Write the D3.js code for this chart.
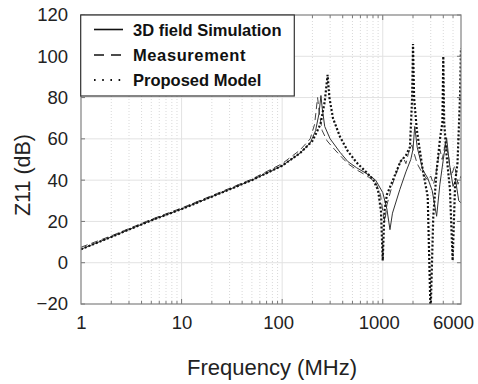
<!DOCTYPE html>
<html>
<head>
<meta charset="utf-8">
<script src="https://cdn.jsdelivr.net/npm/d3@7"></script>
<style>
  body { margin: 0; background: #fff; }
  svg { font-family: Arial, "Liberation Sans", sans-serif; }
</style>
</head>
<body>
<div id="chart"></div>
<script>
// Dados (Z11 em dB x frequência em MHz)
const freqSim = [1, 2, 5, 10, 20, 50, 100, 150, 190, 215, 232, 243, 250, 265, 300, 376, 450, 550, 700, 850, 1000, 1100, 1180, 1250, 1480, 1700, 1900, 2000, 2080, 2200, 2500, 2800, 3100, 3435, 3700, 4000, 4315, 4600, 5000, 5300, 5700, 6000];
const z11Sim = [6.5, 12.5, 20.5, 26, 32, 40, 47, 53, 58, 64, 72, 81, 75, 66, 60, 53.5, 49, 46, 43, 40, 34, 26, 16, 24, 35.5, 44, 50, 55, 66, 56, 45, 41, 35, 22.5, 38, 50, 60.5, 48, 37, 40, 30, 29];

const freqMeas = [1, 2, 5, 10, 20, 50, 100, 150, 190, 210, 225, 235, 250, 280, 330, 376, 450, 550, 700, 850, 950, 1000, 1050, 1100, 1250, 1400, 1500, 1600, 1700, 1800, 1950, 2050, 2200, 2500, 2800, 3000, 3200, 3400, 3700, 3900, 4200, 4500, 4800, 5200, 5600, 6000];
const z11Meas = [7.5, 13, 21, 26.5, 32.5, 40.5, 48, 54.5, 60, 67, 80, 72, 64, 59, 55, 52, 48, 45, 42, 39, 33, 25, 20, 28, 38, 45, 49, 51, 48, 53, 57, 53, 48, 43, 40, 42, 38, 44, 55, 50, 58, 52, 42, 47, 38, 42];

const freqModel = [1, 2, 5, 10, 20, 50, 100, 150, 200, 240, 265, 283, 295, 320, 376, 450, 550, 650, 800, 900, 960, 1000, 1040, 1100, 1262, 1500, 1700, 1864, 1960, 2000, 2050, 2180, 2500, 2800, 2990, 3180, 3440, 3710, 3920, 4000, 4080, 4320, 4660, 4955, 5250, 5540, 5870, 6000];
const z11Model = [6.5, 12.5, 20.5, 26, 32, 40, 47, 53, 59, 67, 78, 91, 80, 70, 61, 54, 48.5, 45, 40.5, 35, 25, 1, 25, 33, 40, 49, 52, 56, 80, 106, 80, 64.5, 45, 32, -25, 22.5, 45, 60, 68, 100, 68, 51.6, 35.5, 1, 39, 48.5, 80.6, 104];

const xTicks = [1, 10, 100, 1000, 6000];
const yTicks = [-20, 0, 20, 40, 60, 80, 100, 120];
const legendLabels = ['3D field Simulation', 'Measurement', 'Proposed Model'];

// Configurações
const W = 478, H = 384;
const margin = { top: 15, right: 17, bottom: 80, left: 81 };
const width = W - margin.left - margin.right;
const height = H - margin.top - margin.bottom;

const svg = d3.select('#chart').append('svg')
  .attr('width', W)
  .attr('height', H);

const g = svg.append('g')
  .attr('transform', `translate(${margin.left},${margin.top})`);

// Escalas
const x = d3.scaleLog().domain([1, 6000]).range([0, width]);
const y = d3.scaleLinear().domain([-20, 120]).range([height, 0]);

// Grade secundária (pontilhada) e principal
const minorX = [];
for (let dec = 1; dec <= 1000; dec *= 10) {
  for (let k = 2; k <= 9; k++) {
    if (dec * k < 6000) minorX.push(dec * k);
  }
}
const majorX = [10, 100, 1000];

g.append('g').selectAll('line')
  .data(minorX).enter().append('line')
  .attr('x1', d => x(d)).attr('x2', d => x(d))
  .attr('y1', 0).attr('y2', height)
  .attr('stroke', '#cfcfcf')
  .attr('stroke-width', 0.8)
  .attr('stroke-dasharray', '1,2');

g.append('g').selectAll('line')
  .data(majorX).enter().append('line')
  .attr('x1', d => x(d)).attr('x2', d => x(d))
  .attr('y1', 0).attr('y2', height)
  .attr('stroke', '#e2e2e2')
  .attr('stroke-width', 1);

g.append('g').selectAll('line')
  .data(yTicks.slice(1, -1)).enter().append('line')
  .attr('x1', 0).attr('x2', width)
  .attr('y1', d => y(d)).attr('y2', d => y(d))
  .attr('stroke', '#e2e2e2')
  .attr('stroke-width', 1);

// Marcas internas dos eixos
const tickG = g.append('g').attr('stroke', '#777').attr('stroke-width', 1);
minorX.concat(majorX).forEach(d => {
  const len = majorX.includes(d) ? 5 : 3;
  tickG.append('line').attr('x1', x(d)).attr('x2', x(d)).attr('y1', height).attr('y2', height - len);
  tickG.append('line').attr('x1', x(d)).attr('x2', x(d)).attr('y1', 0).attr('y2', len);
});
yTicks.forEach(d => {
  tickG.append('line').attr('x1', 0).attr('x2', 4).attr('y1', y(d)).attr('y2', y(d));
  tickG.append('line').attr('x1', width).attr('x2', width - 4).attr('y1', y(d)).attr('y2', y(d));
});

// Curvas
g.append('clipPath').attr('id', 'clip')
  .append('rect').attr('width', width).attr('height', height);

const line = d3.line()
  .x(d => x(d[0]))
  .y(d => y(d[1]));

const zip = (fs, vs) => fs.map((f, i) => [f, vs[i]]);

const curves = g.append('g').attr('clip-path', 'url(#clip)');

curves.append('path')
  .datum(zip(freqMeas, z11Meas))
  .attr('d', line)
  .attr('fill', 'none')
  .attr('stroke', '#444')
  .attr('stroke-width', 1)
  .attr('stroke-dasharray', '7,4');

curves.append('path')
  .datum(zip(freqSim, z11Sim))
  .attr('d', line)
  .attr('fill', 'none')
  .attr('stroke', '#333')
  .attr('stroke-width', 1);

curves.append('path')
  .datum(zip(freqModel, z11Model))
  .attr('d', line)
  .attr('fill', 'none')
  .attr('stroke', '#111')
  .attr('stroke-width', 2.2)
  .attr('stroke-dasharray', '2,2');

// Caixa do gráfico
g.append('rect')
  .attr('width', width).attr('height', height)
  .attr('fill', 'none')
  .attr('stroke', '#808080')
  .attr('stroke-width', 1.2);

// Rótulos dos eixos
const xAxis = d3.axisBottom(x).tickValues(xTicks).tickFormat(d3.format('d')).tickSize(0).tickPadding(12);
const xa = g.append('g')
  .attr('transform', `translate(0,${height})`)
  .call(xAxis);
xa.select('.domain').remove();
xa.selectAll('text')
  .attr('font-size', 18.5)
  .attr('fill', '#222')
  .attr('dx', d => d === 6000 ? -8 : (d >= 100 ? -4 : 0));

const yAxis = d3.axisLeft(y).tickValues(yTicks).tickSize(0).tickPadding(13);
const ya = g.append('g').call(yAxis);
ya.select('.domain').remove();
ya.selectAll('text')
  .attr('font-size', 18.5)
  .attr('fill', '#222');

svg.append('text')
  .attr('x', 272).attr('y', 375)
  .attr('text-anchor', 'middle')
  .attr('font-size', 22)
  .attr('fill', '#222')
  .text('Frequency (MHz)');

svg.append('text')
  .attr('transform', 'translate(30,175) rotate(-90)')
  .attr('text-anchor', 'middle')
  .attr('font-size', 21.5)
  .attr('fill', '#222')
  .text('Z11 (dB)');

// Legenda
const legend = svg.append('g');
legend.append('rect')
  .attr('x', 80.7).attr('y', 15)
  .attr('width', 213.6).attr('height', 81)
  .attr('fill', '#fff')
  .attr('stroke', '#333')
  .attr('stroke-width', 1.2);

const legendStyles = [
  { dash: null, w: 1.6 },
  { dash: '10,7', w: 1.6 },
  { dash: '1.6,6.6', w: 1.8 }
];
const rowY = [29.5, 55, 80];
legendLabels.forEach((label, i) => {
  legend.append('line')
    .attr('x1', 94).attr('x2', 123)
    .attr('y1', rowY[i]).attr('y2', rowY[i])
    .attr('stroke', '#111')
    .attr('stroke-width', legendStyles[i].w)
    .attr('stroke-dasharray', legendStyles[i].dash);
  legend.append('text')
    .attr('x', 133).attr('y', rowY[i] + 6)
    .attr('font-size', 16.5)
    .attr('font-weight', 'bold')
    .attr('fill', '#111')
    .attr('letter-spacing', i === 1 ? 0.6 : 0)
    .text(label);
});
</script>
</body>
</html>
